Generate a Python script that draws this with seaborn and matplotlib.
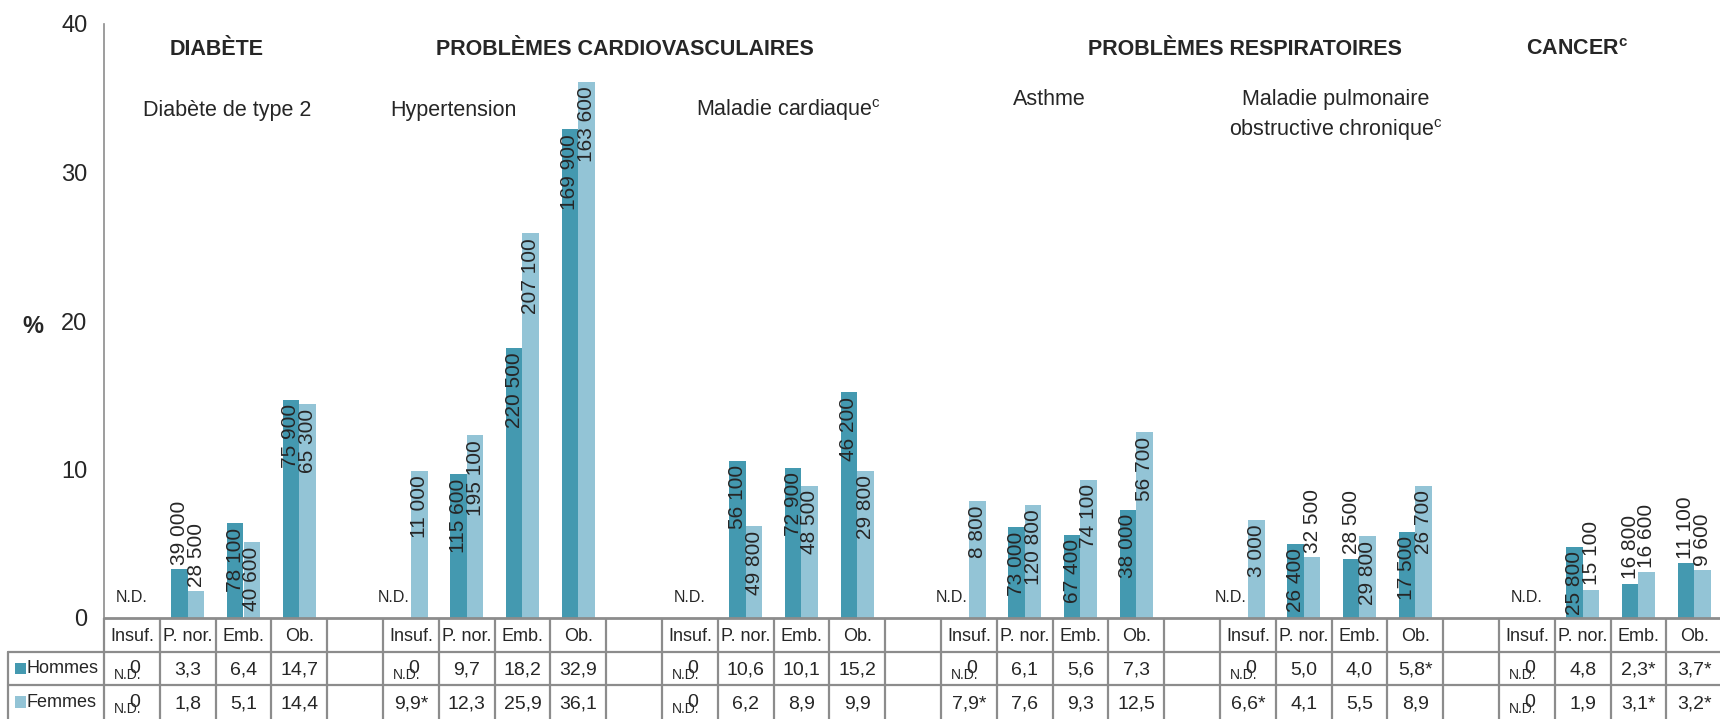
import numpy as np
import pandas as pd
import matplotlib
matplotlib.use("Agg")
import matplotlib.pyplot as plt
import seaborn as sns
from matplotlib.patches import Rectangle

# Données
groupes = ['Diabète de type 2', 'Hypertension', 'Maladie cardiaque', 'Asthme',
           'Maladie pulmonaire obstructive chronique', 'Cancer']
categories = ['Insuf.', 'P. nor.', 'Emb.', 'Ob.']
sexes = ['Hommes', 'Femmes']

hommes_pct = [
    [np.nan, 3.3, 6.4, 14.7],
    [np.nan, 9.7, 18.2, 32.9],
    [np.nan, 10.6, 10.1, 15.2],
    [np.nan, 6.1, 5.6, 7.3],
    [np.nan, 5.0, 4.0, 5.8],
    [np.nan, 4.8, 2.3, 3.7],
]
femmes_pct = [
    [np.nan, 1.8, 5.1, 14.4],
    [9.9, 12.3, 25.9, 36.1],
    [np.nan, 6.2, 8.9, 9.9],
    [7.9, 7.6, 9.3, 12.5],
    [6.6, 4.1, 5.5, 8.9],
    [np.nan, 1.9, 3.1, 3.2],
]
# estimation à interpréter avec prudence (*)
hommes_etoile = [
    [0, 0, 0, 0], [0, 0, 0, 0], [0, 0, 0, 0],
    [0, 0, 0, 0], [0, 0, 0, 1], [0, 0, 1, 1],
]
femmes_etoile = [
    [0, 0, 0, 0], [1, 0, 0, 0], [0, 0, 0, 0],
    [1, 0, 0, 0], [1, 0, 0, 0], [0, 0, 1, 1],
]
hommes_nb = [
    [None, '39 000', '78 100', '75 900'],
    [None, '115 600', '220 500', '169 900'],
    [None, '56 100', '72 900', '46 200'],
    [None, '73 000', '67 400', '38 000'],
    [None, '26 400', '28 500', '17 500'],
    [None, '25 800', '16 800', '11 100'],
]
femmes_nb = [
    [None, '28 500', '40 600', '65 300'],
    ['11 000', '195 100', '207 100', '163 600'],
    [None, '49 800', '48 500', '29 800'],
    ['8 800', '120 800', '74 100', '56 700'],
    ['3 000', '32 500', '29 800', '26 700'],
    [None, '15 100', '16 600', '9 600'],
]

sections = ['DIABÈTE', 'PROBLÈMES CARDIOVASCULAIRES', 'PROBLÈMES RESPIRATOIRES',
            'CANCER$^\\mathregular{c}$']
sous_titres = ['Diabète de type 2', 'Hypertension', 'Maladie cardiaque$^\\mathregular{c}$',
               'Asthme', 'Maladie pulmonaire\nobstructive chronique$^\\mathregular{c}$']

couleurs = ['#4499b0', '#93c4d6']

sns.set_theme(style='white')
plt.rcParams['font.family'] = ['Liberation Sans Narrow', 'Liberation Sans', 'DejaVu Sans']

# mise en page (pixels)
W, H = 1720, 719
x0_px, y0_px, ytop_px = 104, 618, 24
slot_px = 55.8
n_vis = (W - x0_px) / slot_px

fig = plt.figure(figsize=(W / 100, H / 100), dpi=100)
ax = fig.add_axes([x0_px / W, (H - y0_px) / H, 1 - x0_px / W, (y0_px - ytop_px) / H])
tab = fig.add_axes([0, 0, 1, (H - y0_px) / H])

# tableau long pour seaborn
rows = []
order = []
for g in range(len(groupes)):
    for c, cat in enumerate(categories):
        key = f'{g}-{cat}'
        order.append(key)
        rows.append({'case': key, 'sexe': 'Hommes', 'pct': hommes_pct[g][c]})
        rows.append({'case': key, 'sexe': 'Femmes', 'pct': femmes_pct[g][c]})
    order.append(f'{g}-vide')
df = pd.DataFrame(rows)

sns.barplot(data=df, x='case', y='pct', hue='sexe', order=order, hue_order=sexes,
            palette=couleurs, saturation=1, width=0.6, errorbar=None,
            linewidth=0, legend=False, ax=ax)

ax.set_xlim(-0.5, -0.5 + n_vis)
ax.set_ylim(0, 40)
ax.set_yticks([0, 10, 20, 30, 40])
ax.set_xticks([])
ax.set_xlabel('')
ax.set_ylabel('')
ax.tick_params(axis='y', length=0, pad=12, labelsize=17)
for s in ['top', 'right', 'bottom']:
    ax.spines[s].set_visible(False)
ax.spines['left'].set_color('#8c8c8c')
ax.spines['left'].set_linewidth(1.2)
fig.text(33 / W, 1 - 327 / H, '%', fontsize=17, fontweight='bold', ha='center', va='center')

# étiquettes des barres (effectifs)
etiq = {}
for g in range(len(groupes)):
    for c in range(len(categories)):
        etiq[('Hommes', 5 * g + c)] = hommes_nb[g][c]
        etiq[('Femmes', 5 * g + c)] = femmes_nb[g][c]

for bar in ax.patches:
    h = bar.get_height()
    if np.isnan(h) or h == 0:
        continue
    xc = bar.get_x() + bar.get_width() / 2
    slot = int(round(xc))
    sexe = 'Hommes' if xc < slot else 'Femmes'
    lab = etiq.get((sexe, slot))
    if not lab:
        continue
    L = len(lab) * 0.77
    if h >= L:
        ax.text(xc, h - 0.3, lab, rotation=90, ha='center', va='top', fontsize=15,
                family=['Liberation Sans', 'DejaVu Sans'])
    else:
        ax.text(xc, h + 0.3, lab, rotation=90, ha='center', va='bottom', fontsize=15,
                family=['Liberation Sans', 'DejaVu Sans'])

# N.D. dans le graphique
for g in range(len(groupes)):
    for c in range(len(categories)):
        if np.isnan(hommes_pct[g][c]):
            slot = 5 * g + c
            if np.isnan(femmes_pct[g][c]):
                ax.text(slot, 0.9, 'N.D.', ha='center', va='bottom', fontsize=11.5)
            else:
                ax.text(slot - 0.02, 0.9, 'N.D.', ha='right', va='bottom', fontsize=11.5)

# titres
titre_x = [1.51, 8.84, 19.95, 25.9]
for t, xt in zip(sections, titre_x):
    ax.text(xt, 38.3, t, ha='center', va='center', fontsize=15.5, fontweight='bold')
st_x = [1.70, 5.77, 11.76, 16.45, 21.58]
st_y = [34.2, 34.2, 34.2, 34.9, 33.8]
for t, xt, yt in zip(sous_titres, st_x, st_y):
    ax.text(xt, yt, t, ha='center', va='center', fontsize=15.5, linespacing=1.35)

# tableau de données
left = -0.5 - x0_px / slot_px
right = -0.5 + n_vis
tab.set_xlim(left, right)
tab.set_ylim(0, 3)
tab.axis('off')
gris = '#8c8c8c'
lw = 1.6
tab.plot([-0.5, right], [3, 3], color=gris, lw=2, clip_on=False)
for yl in [2, 1]:
    tab.plot([left + 8 / slot_px, right], [yl, yl], color=gris, lw=lw)
tab.plot([left + 8 / slot_px] * 2, [0, 2], color=gris, lw=lw)
for k in range(len(order) + 1):
    tab.plot([k - 0.5, k - 0.5], [0, 3], color=gris, lw=lw)

for g in range(len(groupes)):
    for c, cat in enumerate(categories):
        slot = 5 * g + c
        tab.text(slot, 2.45, cat, ha='center', va='center', fontsize=13)
        for yrow, pct, etoile in [(1.45, hommes_pct, hommes_etoile),
                                  (0.45, femmes_pct, femmes_etoile)]:
            v = pct[g][c]
            if np.isnan(v):
                tab.text(slot + 0.05, yrow + 0.05, '0', ha='center', va='center', fontsize=14)
                tab.text(slot - 0.08, yrow - 0.15, 'N.D.', ha='center', va='center', fontsize=10)
            else:
                s = f'{v:.1f}'.replace('.', ',') + ('*' if etoile[g][c] else '')
                tab.text(slot, yrow, s, ha='center', va='center', fontsize=14)

# légende dans le tableau
for yrow, sexe, coul in [(1.5, 'Hommes', couleurs[0]), (0.5, 'Femmes', couleurs[1])]:
    tab.add_patch(Rectangle((left + 15 / slot_px, yrow - 0.17), 11 / slot_px, 0.34,
                            color=coul, lw=0))
    tab.text(left + 27 / slot_px, yrow, sexe, ha='left', va='center', fontsize=13)

fig.savefig('out.png', dpi=100)
